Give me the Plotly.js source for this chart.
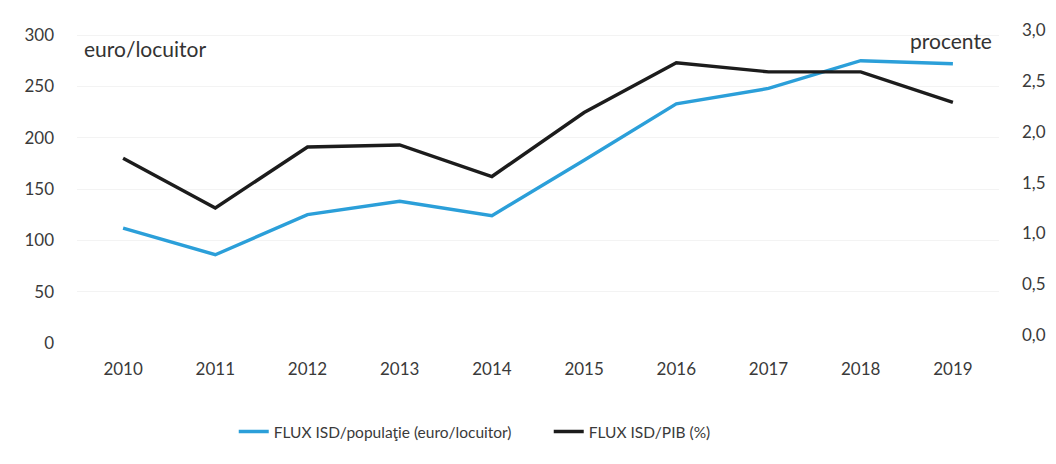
<!DOCTYPE html>
<html>
<head>
<meta charset="utf-8">
<script src="https://cdn.plot.ly/plotly-3.0.1.min.js"></script>
<style>
html,body{margin:0;padding:0;background:#fff;}
#chart{width:1056px;height:464px;}
</style>
</head>
<body>
<div id="chart"></div>
<script>
const years = ["2010","2011","2012","2013","2014","2015","2016","2017","2018","2019"];
const fluxPopulatie = [112, 86, 125, 138, 124, 178, 233, 248, 275, 272];
const fluxPib = [1.74, 1.25, 1.85, 1.87, 1.56, 2.19, 2.68, 2.59, 2.59, 2.29];
const leftTicks = [0, 50, 100, 150, 200, 250, 300];
const rightTicks = [0, 0.5, 1, 1.5, 2, 2.5, 3];
const nameBlue = "FLUX ISD/populaţie (euro/locuitor)";
const nameBlack = "FLUX ISD/PIB (%)";

const FONT = "Lato, 'Open Sans', sans-serif";

const traces = [
  {
    x: years, y: fluxPopulatie, name: nameBlue, type: "scatter", mode: "lines",
    line: {color: "#2b9fd9", width: 3.4}, yaxis: "y", hoverinfo: "skip"
  },
  {
    x: years, y: fluxPib, name: nameBlack, type: "scatter", mode: "lines",
    line: {color: "#1c1c1c", width: 3.4}, yaxis: "y2", hoverinfo: "skip"
  }
];

const layout = {
  width: 1056, height: 464,
  margin: {l: 77, r: 57, t: 30, b: 121},
  paper_bgcolor: "#ffffff", plot_bgcolor: "#ffffff",
  separators: ", ",
  font: {family: FONT, color: "#3a3a3a"},
  showlegend: true,
  xaxis: {
    type: "category", range: [-0.5, 9.5],
    showgrid: false, zeroline: false, showline: false, ticks: "",
    ticklabelstandoff: 14,
    tickfont: {size: 17, family: FONT, color: "#3a3a3a"}
  },
  yaxis: {
    range: [0, 304.9], tickvals: leftTicks, ticktext: leftTicks.map(String),
    showgrid: true, gridcolor: "#f3f3f3", gridwidth: 1,
    zeroline: false, showline: false, ticks: "",
    ticklabelstandoff: 22,
    tickfont: {size: 17, family: FONT, color: "#3a3a3a"}
  },
  yaxis2: {
    overlaying: "y", side: "right",
    range: [-0.079, 3.002], tickvals: rightTicks, tickformat: ".1f",
    showgrid: false, zeroline: false, showline: false, ticks: "",
    ticklabelstandoff: 22,
    tickfont: {size: 17, family: FONT, color: "#3a3a3a"}
  },
  legend: {
    orientation: "h", x: 0.17, xanchor: "left", y: -0.284, yanchor: "middle",
    font: {size: 15.5, family: FONT, color: "#3a3a3a"},
    bgcolor: "rgba(0,0,0,0)", itemwidth: 30, tracegroupgap: 0,
    entrywidth: 270, entrywidthmode: "pixels"
  },
  annotations: [
    {text: "euro/locuitor", xref: "paper", yref: "paper", x: 0.005, y: 0.942,
     xanchor: "left", yanchor: "middle", showarrow: false,
     font: {size: 21, family: FONT, color: "#333333"}},
    {text: "procente", xref: "paper", yref: "paper", x: 0.9946, y: 0.968,
     xanchor: "right", yanchor: "middle", showarrow: false,
     font: {size: 21, family: FONT, color: "#333333"}}
  ]
};

Plotly.newPlot("chart", traces, layout, {staticPlot: true, displayModeBar: false});
</script>
</body>
</html>
